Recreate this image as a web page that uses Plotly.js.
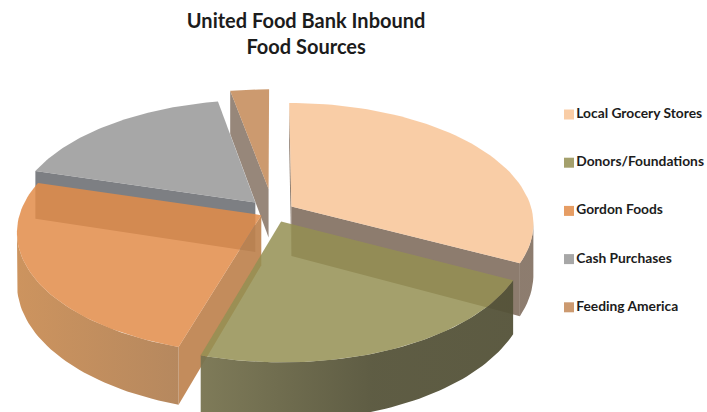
<!DOCTYPE html>
<html>
<head>
<meta charset="utf-8">
<script src="https://cdn.plot.ly/plotly-3.0.1.min.js"></script>
<style>html,body{margin:0;padding:0;background:#fff}#chart{width:707px;height:412px}</style>
</head>
<body>
<div id="chart"></div>
<script>
// Inbound food sources, percent of total
const categories = ['Local Grocery Stores', 'Donors/Foundations', 'Gordon Foods', 'Cash Purchases', 'Feeding America'];
const shares = [32.5, 22.2, 24.8, 17.5, 3];

// How far each slice is pulled out of the pie, as a fraction of the radius
const explode = [0.09, 0.085, 0.055, 0.11, 0.20];

// Colours: legend swatch, translucent top face, flat wall, curved wall gradient
const swatchColors = ['#F9CDA6', '#A4A06C', '#E69D64', '#A7A7A7', '#CC9A70'];
const topColors = ['rgba(248,196,150,0.85)', 'rgba(148,143,82,0.85)', 'rgba(226,140,73,0.85)', 'rgba(152,152,152,0.85)', 'rgba(195,136,86,0.85)'];
const wallColors = ['rgba(131,113,98,0.92)', 'rgba(110,106,70,0.92)', 'rgba(190,130,78,0.92)', 'rgba(118,120,124,0.95)', 'rgba(140,122,108,0.9)'];
const arcGradients = [
  [[0, 'rgba(131,113,98,0.92)'], [1, 'rgba(131,113,98,0.92)']],
  [[0, 'rgba(120,116,80,0.95)'], [0.55, 'rgba(86,84,58,0.95)'], [1, 'rgba(84,82,56,0.95)']],
  [[0, 'rgba(202,142,86,0.95)'], [1, 'rgba(178,130,86,0.95)']],
  [[0, 'rgba(118,120,124,0.95)'], [1, 'rgba(118,120,124,0.95)']],
  [[0, 'rgba(140,122,108,0.9)'], [1, 'rgba(140,122,108,0.9)']]
];

// Back-to-front painting order of the slices
const paintOrder = [4, 3, 0, 2, 1];

// Perspective view of the pie disc, in plot units
const view = {cx: 273, cy: 212, rx: 241, ry: 119, depth: 50, persp: 0.136};

function project(u, v, z) {
  const s = 1 / (1 + view.persp * v);
  return [view.cx + view.rx * u * s, view.cy - view.ry * v * s + view.depth * z * s];
}

// Screen-space winding decides whether a wall faces the viewer
function facesViewer(a, b) {
  const p = [a, b, [b[0], b[1], 1], [a[0], a[1], 1]].map(q => project(q[0], q[1], q[2] || 0));
  let area = 0;
  p.forEach((q, i) => {
    const n = p[(i + 1) % 4];
    area += q[0] * (-n[1]) - n[0] * (-q[1]);
  });
  return area > 0;
}

function polygon(groundPts, z) {
  return groundPts.map(g => project(g[0], g[1], z));
}

function fillTrace(pts, color, gradient) {
  const t = {
    type: 'scatter', mode: 'lines', fill: 'toself', hoverinfo: 'skip', showlegend: false,
    x: pts.map(p => p[0]).concat(pts[0][0]), y: pts.map(p => p[1]).concat(pts[0][1]),
    line: {width: 0}, fillcolor: color
  };
  if (gradient) {
    t.fillgradient = {type: 'horizontal', colorscale: gradient};
  }
  return t;
}

const total = shares.reduce((a, b) => a + b, 0);
const slices = [];
let cursor = 0;
shares.forEach((value, i) => {
  const a0 = cursor / total * 2 * Math.PI;
  cursor += value;
  const a1 = cursor / total * 2 * Math.PI;
  const mid = (a0 + a1) / 2;
  const u0 = explode[i] * Math.sin(mid);
  const v0 = explode[i] * Math.cos(mid);
  const arc = [];
  const n = 60;
  for (let k = 0; k <= n; k++) {
    const t = a0 + (a1 - a0) * k / n;
    arc.push([u0 + Math.sin(t), v0 + Math.cos(t)]);
  }
  slices.push({apex: [u0, v0], arc});
});

const traces = [];
paintOrder.forEach(i => {
  const {apex, arc} = slices[i];

  // Flat faces along the two cut edges
  [[apex, arc[0]], [arc[arc.length - 1], apex]].forEach(edge => {
    if (facesViewer(edge[0], edge[1])) {
      const top = polygon(edge, 0);
      const bottom = polygon(edge, 1).reverse();
      traces.push(fillTrace(top.concat(bottom), wallColors[i]));
    }
  });

  // Curved rim: only the stretch turned toward the viewer
  const front = [];
  for (let k = 0; k < arc.length - 1; k++) {
    if (facesViewer(arc[k], arc[k + 1])) {
      if (!front.length) front.push(arc[k]);
      front.push(arc[k + 1]);
    }
  }
  if (front.length > 1) {
    const pts = polygon(front, 0).concat(polygon(front, 1).reverse());
    traces.push(fillTrace(pts, wallColors[i], arcGradients[i]));
  }

  // Top face
  traces.push(fillTrace(polygon([apex].concat(arc), 0), topColors[i]));
});

// Legend column
const legendX = 569, legendTop = 114.5, legendStep = 48.2;
traces.push({
  type: 'scatter', mode: 'markers+text', hoverinfo: 'skip', showlegend: false,
  x: categories.map(() => legendX),
  y: categories.map((c, i) => legendTop + i * legendStep),
  text: categories,
  textposition: 'middle right',
  textfont: {family: 'Lato, sans-serif', size: 13.8, color: '#1c1c1c', weight: 700},
  marker: {symbol: 'square', size: 10, color: swatchColors}
});

const layout = {
  width: 707, height: 412,
  margin: {l: 0, r: 0, t: 0, b: 0},
  paper_bgcolor: '#fff', plot_bgcolor: '#fff',
  showlegend: false,
  title: {
    text: 'United Food Bank Inbound<br>Food Sources',
    x: 0.433, xanchor: 'center', y: 0.933, yanchor: 'middle',
    font: {family: 'Lato, sans-serif', size: 20, color: '#1c1c1c', weight: 700}
  },
  xaxis: {visible: false, range: [0, 707], fixedrange: true},
  yaxis: {visible: false, range: [412, 0], fixedrange: true}
};

Plotly.newPlot('chart', traces, layout, {displayModeBar: false, staticPlot: true});
</script>
</body>
</html>
